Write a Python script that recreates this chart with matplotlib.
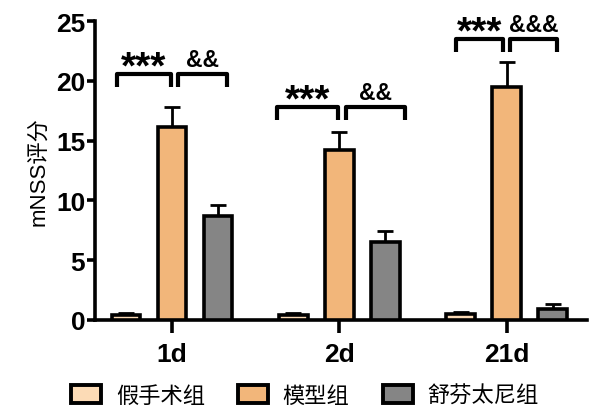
import numpy as np
import matplotlib
matplotlib.use('Agg')
import matplotlib.pyplot as plt
from matplotlib.patches import Patch

plt.rcParams['font.family'] = ['Liberation Sans', 'Noto Sans CJK SC', 'DejaVu Sans']

# mNSS scores (mean and upper SD) per time point
days = ['1d', '2d', '21d']
groups = ['假手术组', '模型组', '舒芬太尼组']
sham = [0.4, 0.4, 0.5]
sham_err = [0.15, 0.15, 0.15]
model = [16.1, 14.2, 19.5]
model_err = [1.7, 1.5, 2.1]
sufen = [8.7, 6.5, 0.9]
sufen_err = [0.9, 0.9, 0.4]

# significance brackets (x offsets from group centre, height)
sig_model = ['***', '***', '***']
sig_sufen = ['&&', '&&', '&&&']
brk_y = [20.6, 17.8, 23.5]
brk_left = [(-0.33, -0.006), (-0.37, -0.006), (-0.30, -0.024)]
brk_right = [(0.036, 0.33), (0.042, 0.39), (0.018, 0.30)]
leg_drop = [1.1, 1.1, 1.1]

colors = ['#FCDBB6', '#F2B67A', '#858585']

fig = plt.figure(figsize=(5.96, 4.1), dpi=100)
ax = fig.add_axes([95/596, 89/410, 492/596, 299/410])

x = np.arange(len(days))
off = 0.275
w = 0.17
lw = 2.6
for vals, errs, dx, c in zip([sham, model, sufen], [sham_err, model_err, sufen_err],
                             [-off, 0, off], colors):
    ax.bar(x + dx, vals, width=w, color=c, edgecolor='black', linewidth=lw, zorder=3)
    ax.errorbar(x + dx, vals, yerr=[np.zeros(len(vals)), errs], fmt='none',
                ecolor='black', elinewidth=2, capsize=5.5, capthick=2, zorder=2)

def bracket(xc, a, b, y, drop, text, fs, base):
    ax.plot([xc + a, xc + a, xc + b, xc + b], [y - drop, y, y, y - drop],
            color='black', lw=3, solid_capstyle='butt', clip_on=False)
    ax.text(xc + (a + b) / 2, y + base, text, ha='center', va='baseline',
            fontsize=fs, fontweight='bold')

for i in range(len(days)):
    bracket(x[i], brk_left[i][0], brk_left[i][1], brk_y[i], leg_drop[i], sig_model[i], 28, -0.3)
    bracket(x[i], brk_right[i][0], brk_right[i][1], brk_y[i], leg_drop[i], sig_sufen[i], 16.5, 0.65)

ax.set_xlim(-0.46, 2.48)
ax.set_ylim(0, 25)
ax.set_yticks(np.arange(0, 26, 5))
ax.set_xticks(x)
ax.set_xticklabels(days)
for s in ['top', 'right']:
    ax.spines[s].set_visible(False)
for s in ['left', 'bottom']:
    ax.spines[s].set_linewidth(2.6)
ax.tick_params(axis='y', width=2.6, length=6, labelsize=19, pad=1)
ax.tick_params(axis='x', width=2.6, length=9, labelsize=19, pad=7)
for t in ax.get_xticklabels() + ax.get_yticklabels():
    t.set_fontweight('bold')
ax.set_ylabel('mNSS评分', fontsize=16, labelpad=5)

handles = [Patch(facecolor=c, edgecolor='black', linewidth=2.8) for c in colors]
fig.legend(handles, groups, loc='center', bbox_to_anchor=(305/596, 1 - 396/410),
           ncol=3, frameon=False, handlelength=1.35, handleheight=0.85,
           handletextpad=0.65, columnspacing=1.5,
           prop={'family': ['Noto Sans CJK SC'], 'size': 16})

fig.savefig('out.png', dpi=100)
